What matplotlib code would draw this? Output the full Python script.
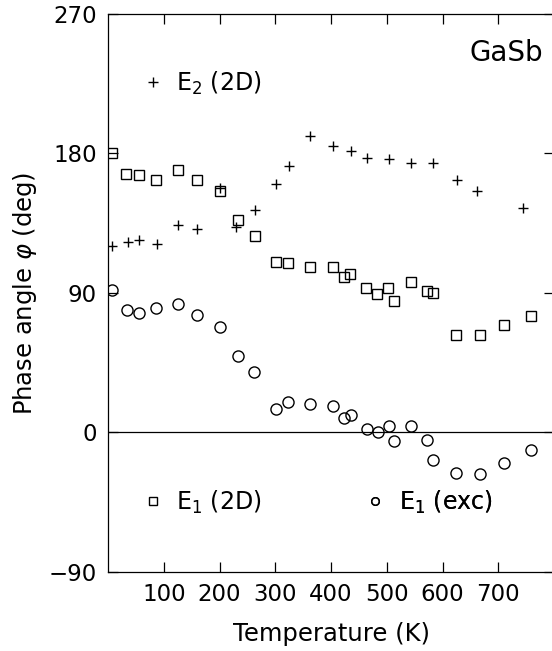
import matplotlib
matplotlib.use("Agg")
import matplotlib.pyplot as plt
from matplotlib.lines import Line2D

# E1 (2D) - squares
T_e1_2d = [8, 33, 56, 86, 125, 160, 201, 234, 264, 301, 323, 362, 403, 423, 434,
           463, 482, 503, 513, 543, 573, 583, 625, 668, 711, 758]
phi_e1_2d = [180, 167, 166, 163, 169.5, 163, 156, 137, 127, 110, 109, 107, 107, 100, 102,
             93, 89, 93, 85, 97, 91, 90, 63, 63, 69, 75]

# E2 (2D) - plus
T_e2_2d = [8, 35, 56, 87, 126, 160, 201, 230, 264, 301, 325, 363, 404, 435, 464,
           504, 544, 583, 626, 661, 744]
phi_e2_2d = [120, 122.7, 124, 121.6, 134, 131, 157.4, 132.2, 143.4, 160.5, 172, 191.4, 184.6, 181.3, 177.2,
             176.4, 173.6, 173.6, 163, 156, 145]

# E1 (exc) - circles
T_e1_exc = [7, 33.5, 55, 86, 125, 160, 200, 234, 262, 301, 323, 363, 404, 424, 435,
            464, 484, 504, 513, 543.5, 573, 583, 625, 668, 711, 759]
phi_e1_exc = [92, 79, 77, 80, 83, 76, 68, 49, 39, 15, 19.8, 18, 17, 9, 11.2,
              1.9, 0.2, 3.9, -5.6, 4.1, -5, -18, -26, -27, -20, -11.4]

xticks = [100, 200, 300, 400, 500, 600, 700]
yticks = [-90, 0, 90, 180, 270]

fig = plt.figure(figsize=(5.52, 6.51), dpi=100)
ax = fig.add_axes([0.1957, 0.1218, 0.808, 0.8567])

ax.plot(T_e1_2d, phi_e1_2d, 's', color='k', mfc='none', ms=7.5, mew=1.0)
ax.plot(T_e2_2d, phi_e2_2d, '+', color='k', ms=7.5, mew=1.0)
ax.plot(T_e1_exc, phi_e1_exc, 'o', color='k', mfc='none', ms=8, mew=1.0)
ax.axhline(0, color='k', lw=0.9)

ax.set_xlim(0, 800)
ax.set_ylim(-90, 270)
ax.set_xticks(xticks)
ax.set_yticks(yticks)
ax.tick_params(direction='in', length=7, width=0.9, top=True, right=True,
               labelsize=16.5, pad=8)
for s in ax.spines.values():
    s.set_linewidth(0.9)

ax.set_xlabel('Temperature (K)', fontsize=17.5, labelpad=12)
ax.set_ylabel(r'Phase angle $\varphi$ (deg)', fontsize=17.5, labelpad=7)

ax.text(0.975, 0.93, 'GaSb', transform=ax.transAxes, fontsize=20,
        ha='right', va='center')

def entry(marker, ms, label, x, y):
    h = Line2D([], [], ls='none', marker=marker, color='k', mfc='none', ms=ms, mew=1.0)
    leg = ax.legend(handles=[h], labels=[label], loc='center left',
                    bbox_to_anchor=(x, y), frameon=False, fontsize=17,
                    handlelength=1.0, handletextpad=0.5, borderpad=0,
                    borderaxespad=0)
    ax.add_artist(leg)

entry('+', 7.5, r'E$_2$ (2D)', 0.074, 0.876)
entry('s', 5.5, r'E$_1$ (2D)', 0.074, 0.1244)
entry('o', 5.5, r'E$_1$ (exc)', 0.573, 0.1244)

fig.savefig('out.png', dpi=100)
